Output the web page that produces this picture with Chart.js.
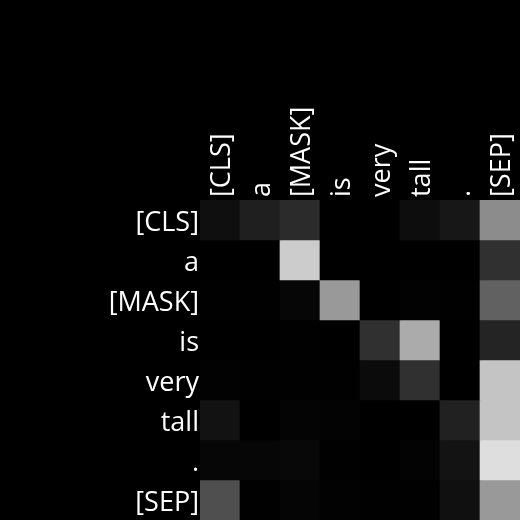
<!DOCTYPE html>
<html>
<head>
<meta charset="utf-8">
<script src="https://cdn.jsdelivr.net/npm/chart.js@4/dist/chart.umd.min.js"></script>
<style>
html,body{margin:0;padding:0;background:#000;}
#wrap{width:520px;height:520px;}
</style>
</head>
<body>
<div id="wrap"><canvas id="c" width="520" height="520"></canvas></div>
<script>
const tokens = ["[CLS]", "a", "[MASK]", "is", "very", "tall", ".", "[SEP]"];
// attention weights (rows = query token, columns = key token), 0..1
const row0 = [0.06, 0.12, 0.17, 0.00, 0.00, 0.05, 0.09, 0.55];
const row1 = [0.00, 0.00, 0.80, 0.00, 0.00, 0.00, 0.00, 0.19];
const row2 = [0.004, 0.004, 0.024, 0.60, 0.00, 0.008, 0.004, 0.38];
const row3 = [0.00, 0.00, 0.004, 0.00, 0.19, 0.67, 0.00, 0.14];
const row4 = [0.008, 0.004, 0.004, 0.004, 0.043, 0.19, 0.00, 0.77];
const row5 = [0.07, 0.00, 0.016, 0.012, 0.00, 0.00, 0.13, 0.77];
const row6 = [0.024, 0.024, 0.031, 0.004, 0.00, 0.012, 0.075, 0.87];
const row7 = [0.31, 0.004, 0.02, 0.008, 0.004, 0.004, 0.063, 0.60];
const rows = [row0, row1, row2, row3, row4, row5, row6, row7];

function gray(v){ const g = Math.round(Math.max(0, Math.min(1, v)) * 255); return `rgb(${g},${g},${g})`; }

const datasets = rows.map((r, i) => ({
  label: tokens[i],
  data: r.map(() => 1),
  backgroundColor: r.map(gray),
  borderWidth: 0,
  barPercentage: 1.0,
  categoryPercentage: 1.0,
  stack: 's'
}));

const font = {family: "'Open Sans', 'Noto Sans', sans-serif", size: 27};

new Chart(document.getElementById('c'), {
  type: 'bar',
  data: {labels: tokens, datasets},
  options: {
    responsive: false,
    animation: false,
    events: [],
    layout: {padding: 0},
    plugins: {legend: {display: false}, tooltip: {enabled: false}},
    scales: {
      x: {
        position: 'top',
        stacked: true,
        grid: {display: false, drawTicks: false},
        border: {display: false},
        ticks: {color: '#fff', font, minRotation: 90, maxRotation: 90, padding: 3, labelOffset: 35, autoSkip: false},
        afterFit: s => { s.height = 200; s.paddingLeft = 0; s.paddingRight = 0; }
      },
      y: {
        stacked: true,
        reverse: true,
        min: 0, max: 8,
        grid: {display: false, drawTicks: false},
        border: {display: false},
        afterBuildTicks: s => { s.ticks = tokens.map((t, i) => ({value: i + 0.5})); },
        ticks: {color: '#fff', font, padding: 1, labelOffset: 3, autoSkip: false,
          callback: (v) => tokens[Math.floor(v)]},
        afterFit: s => { s.width = 200; s.paddingTop = 0; s.paddingBottom = 0; }
      }
    }
  }
});
</script>
</body>
</html>
